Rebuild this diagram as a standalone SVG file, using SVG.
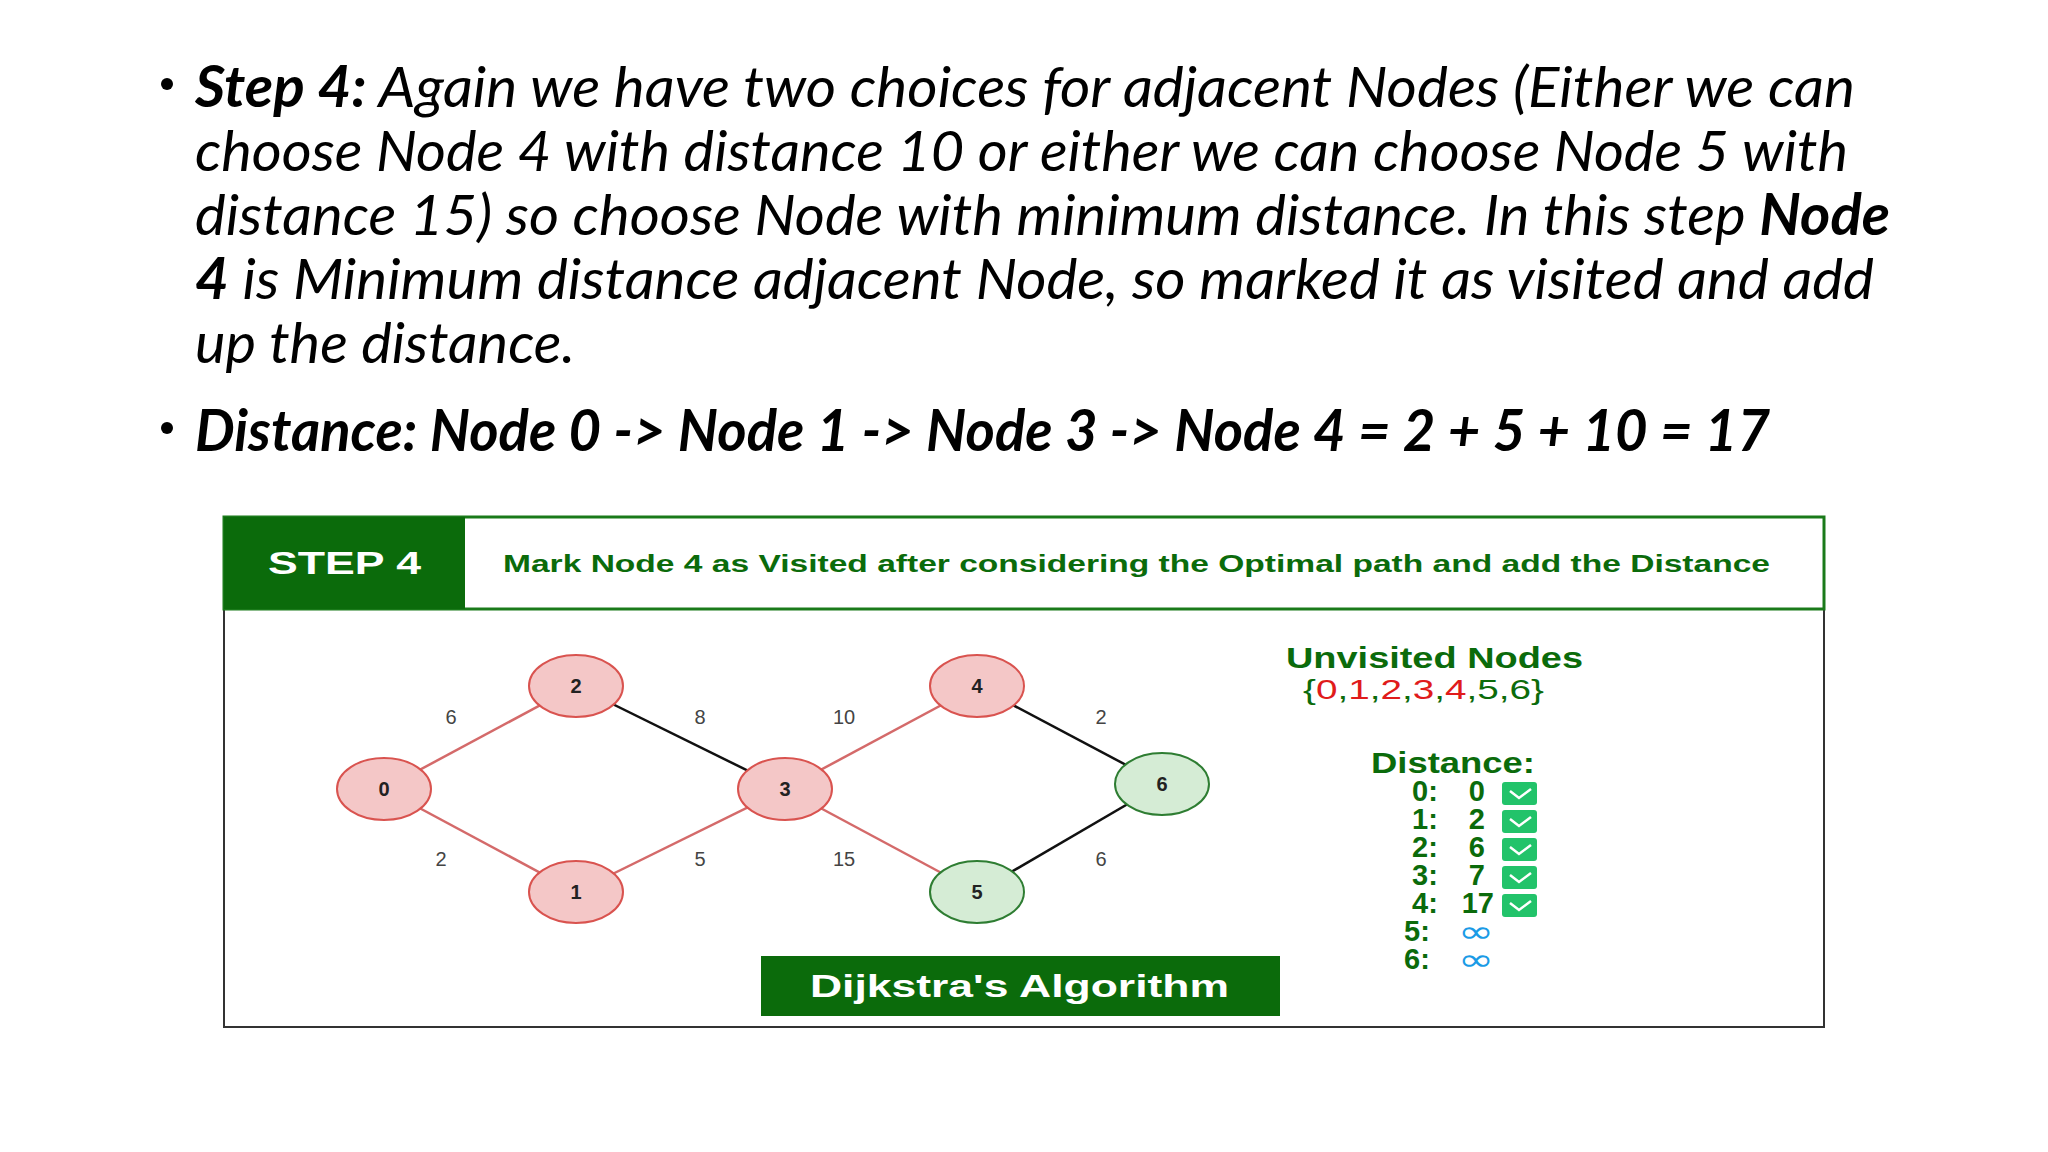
<svg xmlns="http://www.w3.org/2000/svg" width="2048" height="1152" viewBox="0 0 2048 1152">
<style>
.t{font-family:Lato,"Noto Sans",sans-serif;font-size:57px;font-style:italic;fill:#000}
.b{font-weight:bold}
.nr{fill:#f4c7c7;stroke:#d9534f;stroke-width:2}
.ng{fill:#d5ecd5;stroke:#2e7d32;stroke-width:2}
.nl{font-family:"Liberation Sans",Arial,sans-serif;font-size:20px;font-weight:bold;text-anchor:middle;fill:#222}
.el{font-family:"Liberation Sans",Arial,sans-serif;font-size:20px;text-anchor:middle;fill:#444}
.r{stroke:#d46a6a;stroke-width:2.5}
.k{stroke:#111;stroke-width:2.5}
.g{font-family:"Liberation Sans",Arial,sans-serif;font-weight:bold;fill:#0b6b0b}
.d{font-size:29px}
.cb{fill:#22c36a}
.ck{fill:none;stroke:#fff;stroke-width:2.5}
.inf{fill:#1a9be6}
</style>
<rect width="2048" height="1152" fill="#fff"/>
<g id="text">
<circle cx="167" cy="84" r="6" fill="#000"/>
<text class="t" x="195" y="107" textLength="1660" lengthAdjust="spacingAndGlyphs"><tspan class="b">Step 4:</tspan> Again we have two choices for adjacent Nodes (Either we can</text>
<text class="t" x="195" y="171" textLength="1653" lengthAdjust="spacingAndGlyphs">choose Node 4 with distance 10 or either we can choose Node 5 with</text>
<text class="t" x="195" y="235" textLength="1695" lengthAdjust="spacingAndGlyphs">distance 15) so choose Node with minimum distance. In this step <tspan class="b">Node</tspan></text>
<text class="t" x="195" y="299" textLength="1679" lengthAdjust="spacingAndGlyphs"><tspan class="b">4</tspan> is Minimum distance adjacent Node, so marked it as visited and add</text>
<text class="t" x="195" y="363" textLength="380" lengthAdjust="spacingAndGlyphs">up the distance.</text>
<circle cx="167" cy="428" r="6" fill="#000"/>
<text class="t b" x="195" y="451" textLength="1575" lengthAdjust="spacingAndGlyphs">Distance: Node 0 -&gt; Node 1 -&gt; Node 3 -&gt; Node 4 = 2 + 5 + 10 = 17</text>
</g>
<g id="frame">
<rect x="224" y="517" width="1600" height="510" fill="#fff" stroke="#333" stroke-width="2"/>
<rect x="224" y="517" width="1600" height="92" fill="none" stroke="#1a7a1a" stroke-width="3"/>
<rect x="224" y="517" width="241" height="92" fill="#0b6b0b"/>
<text x="268" y="574" font-family="Liberation Sans,Arial,sans-serif" font-weight="bold" font-size="32" fill="#fff" textLength="153" lengthAdjust="spacingAndGlyphs">STEP 4</text>
<text class="g" x="503" y="572" font-size="23" textLength="1267" lengthAdjust="spacingAndGlyphs">Mark Node 4 as Visited after considering the Optimal path and add the Distance</text>
</g>
<g id="connectors">
<line class="r" x1="384" y1="789" x2="576" y2="686"/>
<line class="r" x1="384" y1="789" x2="576" y2="892"/>
<line class="r" x1="576" y1="892" x2="785" y2="789"/>
<line class="k" x1="576" y1="686" x2="785" y2="789"/>
<line class="r" x1="785" y1="789" x2="977" y2="686"/>
<line class="r" x1="785" y1="789" x2="977" y2="892"/>
<line class="k" x1="977" y1="686" x2="1162" y2="784"/>
<line class="k" x1="977" y1="892" x2="1162" y2="784"/>
<text class="el" x="451" y="724">6</text>
<text class="el" x="700" y="724">8</text>
<text class="el" x="844" y="724">10</text>
<text class="el" x="1101" y="724">2</text>
<text class="el" x="441" y="866">2</text>
<text class="el" x="700" y="866">5</text>
<text class="el" x="844" y="866">15</text>
<text class="el" x="1101" y="866">6</text>
</g>
<g id="n0"><ellipse class="nr" cx="384" cy="789" rx="47" ry="31"/><text class="nl" x="384" y="796">0</text></g>
<g id="n2"><ellipse class="nr" cx="576" cy="686" rx="47" ry="31"/><text class="nl" x="576" y="693">2</text></g>
<g id="n1"><ellipse class="nr" cx="576" cy="892" rx="47" ry="31"/><text class="nl" x="576" y="899">1</text></g>
<g id="n3"><ellipse class="nr" cx="785" cy="789" rx="47" ry="31"/><text class="nl" x="785" y="796">3</text></g>
<g id="n4"><ellipse class="nr" cx="977" cy="686" rx="47" ry="31"/><text class="nl" x="977" y="693">4</text></g>
<g id="n5"><ellipse class="ng" cx="977" cy="892" rx="47" ry="31"/><text class="nl" x="977" y="899">5</text></g>
<g id="n6"><ellipse class="ng" cx="1162" cy="784" rx="47" ry="31"/><text class="nl" x="1162" y="791">6</text></g>
<g id="title"><rect x="761" y="956" width="519" height="60" fill="#0b6b0b"/>
<text x="810" y="997" font-family="Liberation Sans,Arial,sans-serif" font-weight="bold" font-size="32" fill="#fff" textLength="419" lengthAdjust="spacingAndGlyphs">Dijkstra's Algorithm</text></g>
<g id="panel">
<text class="g" x="1286" y="668" font-size="30" textLength="297" lengthAdjust="spacingAndGlyphs">Unvisited Nodes</text>
<text x="1303" y="699" font-family="Liberation Sans,Arial,sans-serif" font-size="28" fill="#0b6b0b" textLength="241" lengthAdjust="spacingAndGlyphs">{<tspan fill="#e01b1b">0</tspan>,<tspan fill="#e01b1b">1</tspan>,<tspan fill="#e01b1b">2</tspan>,<tspan fill="#e01b1b">3</tspan>,<tspan fill="#e01b1b">4</tspan>,5,6}</text>
<text class="g" x="1371" y="773" font-size="30" textLength="164" lengthAdjust="spacingAndGlyphs">Distance:</text>
<g class="g d">
<text x="1412" y="801">0:</text><text x="1485" y="801" text-anchor="end">0</text>
<text x="1412" y="829">1:</text><text x="1485" y="829" text-anchor="end">2</text>
<text x="1412" y="857">2:</text><text x="1485" y="857" text-anchor="end">6</text>
<text x="1412" y="885">3:</text><text x="1485" y="885" text-anchor="end">7</text>
<text x="1412" y="913">4:</text><text x="1494" y="913" text-anchor="end">17</text>
<text x="1404" y="941">5:</text>
<text x="1404" y="969">6:</text>
</g>
<text x="1458" y="942" font-family="DejaVu Sans,sans-serif" font-size="30" class="inf" textLength="36" lengthAdjust="spacingAndGlyphs">∞</text>
<text x="1458" y="970" font-family="DejaVu Sans,sans-serif" font-size="30" class="inf" textLength="36" lengthAdjust="spacingAndGlyphs">∞</text>
<rect class="cb" x="1502" y="782" width="35" height="23" rx="3"/><path class="ck" d="M1510 791l9 7 12-9"/>
<rect class="cb" x="1502" y="810" width="35" height="23" rx="3"/><path class="ck" d="M1510 819l9 7 12-9"/>
<rect class="cb" x="1502" y="838" width="35" height="23" rx="3"/><path class="ck" d="M1510 847l9 7 12-9"/>
<rect class="cb" x="1502" y="866" width="35" height="23" rx="3"/><path class="ck" d="M1510 875l9 7 12-9"/>
<rect class="cb" x="1502" y="894" width="35" height="23" rx="3"/><path class="ck" d="M1510 903l9 7 12-9"/>
</g>
</svg>
